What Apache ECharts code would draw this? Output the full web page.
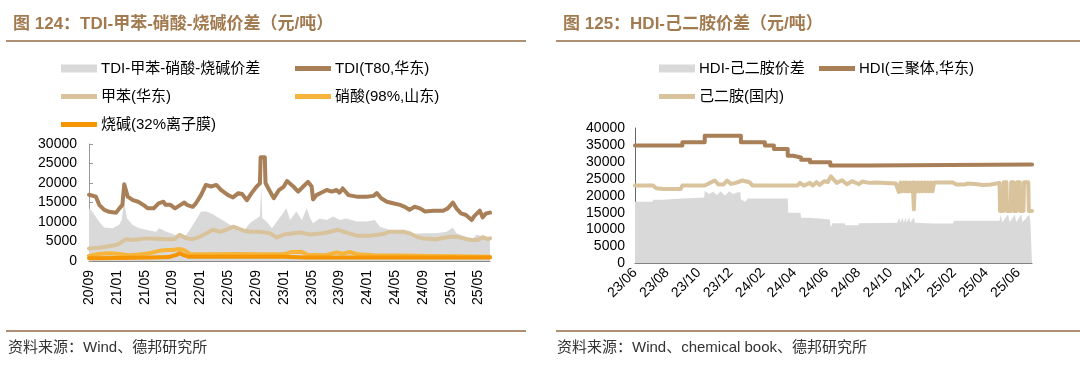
<!DOCTYPE html>
<html>
<head>
<meta charset="utf-8">
<script src="https://cdn.jsdelivr.net/npm/echarts@6/dist/echarts.min.js"></script>
<style>
html,body{margin:0;padding:0;background:#fff;}
#c{width:1080px;height:373px;}
</style>
</head>
<body>
<div id="c"></div>
<script>
// ---------- Left chart data (dates, yuan/ton) ----------
const leftTickLabels = ['20/09','21/01','21/05','21/09','22/01','22/05','22/09','23/01','23/05','23/09','24/01','24/05','24/09','25/01','25/05'];
const leftStart = '2020-09-01';
const leftEnd = '2025-06-20';

const tdiSpread = [
['2020-09-01',13500],['2020-09-15',12700],['2020-10-14',10100],['2020-11-06',8600],['2020-12-12',8400],['2021-01-10',9200],['2021-01-22',10500],['2021-02-02',15200],['2021-02-15',10900],['2021-03-10',9200],['2021-04-07',8400],['2021-05-07',8000],['2021-06-19',7500],['2021-07-04',8400],['2021-08-04',7500],['2021-09-01',6900],['2021-10-01',6200],['2021-11-01',6700],['2021-11-22',8600],['2021-12-12',10500],['2022-01-04',12700],['2022-01-28',12700],['2022-02-25',12000],['2022-03-25',10900],['2022-04-25',9800],['2022-05-22',8800],['2022-06-22',8600],['2022-07-13',8000],['2022-08-04',9700],['2022-09-04',10900],['2022-09-18',11500],['2022-09-24',19100],['2022-09-28',11000],['2022-10-16',10100],['2022-11-10',8400],['2022-12-01',10100],['2022-12-22',11800],['2023-01-12',13500],['2023-01-28',10500],['2023-02-25',12700],['2023-03-19',10500],['2023-04-10',13500],['2023-04-25',10900],['2023-05-07',9700],['2023-06-06',10900],['2023-07-06',10500],['2023-08-03',11400],['2023-09-03',10500],['2023-10-01',10900],['2023-11-15',10100],['2023-12-28',10100],['2024-02-03',10500],['2024-02-25',8800],['2024-04-06',8000],['2024-06-06',7500],['2024-07-18',7000],['2024-09-01',7100],['2024-10-28',7100],['2024-12-12',7500],['2025-01-10',8600],['2025-01-25',7100],['2025-03-06',6200],['2025-04-01',5400],['2025-04-22',6800],['2025-05-18',6200],['2025-06-20',6200]
];
const tdiT80 = [
['2020-09-01',17000],['2020-10-01',16500],['2020-10-15',14400],['2020-11-07',13100],['2020-11-28',12600],['2020-12-28',12400],['2021-01-12',13500],['2021-01-25',14400],['2021-02-03',19700],['2021-02-18',16500],['2021-03-10',15600],['2021-04-03',15200],['2021-04-25',14400],['2021-05-15',13500],['2021-06-10',13500],['2021-07-01',14800],['2021-07-22',15200],['2021-08-01',14400],['2021-08-22',14400],['2021-09-12',13500],['2021-10-06',14400],['2021-10-22',15000],['2021-11-03',14400],['2021-11-28',13900],['2021-12-12',14800],['2022-01-04',16900],['2022-01-25',19500],['2022-02-18',19100],['2022-03-10',19500],['2022-04-01',18200],['2022-05-01',16900],['2022-05-22',16300],['2022-06-15',17400],['2022-07-01',17200],['2022-07-22',15600],['2022-08-12',17400],['2022-09-04',19100],['2022-09-18',19900],['2022-09-21',26600],['2022-10-09',26600],['2022-10-12',20000],['2022-10-28',18200],['2022-11-18',16100],['2022-12-10',18200],['2023-01-01',19100],['2023-01-15',20500],['2023-02-12',19100],['2023-03-03',17800],['2023-03-25',19100],['2023-04-15',20300],['2023-05-01',19100],['2023-05-07',15800],['2023-05-22',16900],['2023-06-12',17500],['2023-07-06',18200],['2023-07-28',17800],['2023-08-18',18200],['2023-09-01',17500],['2023-09-15',18600],['2023-10-10',16900],['2023-11-15',16500],['2023-12-28',16500],['2024-01-28',16700],['2024-02-12',17400],['2024-03-01',16100],['2024-03-25',15200],['2024-04-22',14800],['2024-05-22',14400],['2024-06-12',13900],['2024-07-03',13100],['2024-07-25',13900],['2024-08-18',13500],['2024-09-10',12700],['2024-10-15',12900],['2024-11-28',12900],['2024-12-18',13500],['2025-01-10',15000],['2025-01-25',13500],['2025-02-15',12200],['2025-03-06',11800],['2025-04-01',10500],['2025-04-12',11500],['2025-05-06',12900],['2025-05-18',11200],['2025-06-03',12200],['2025-06-20',12400]
];
const toluene = [
['2020-09-01',3200],['2020-10-14',3400],['2020-11-28',3800],['2020-12-28',4100],['2021-01-18',4700],['2021-02-10',5600],['2021-03-10',5400],['2021-04-07',5600],['2021-05-07',5800],['2021-06-19',5700],['2021-08-04',5600],['2021-09-10',5600],['2021-10-01',6700],['2021-11-01',5800],['2021-11-28',5600],['2021-12-28',6200],['2022-01-28',7100],['2022-02-25',8000],['2022-03-25',7500],['2022-04-25',8000],['2022-05-22',8800],['2022-06-12',8400],['2022-07-07',7800],['2022-08-04',7500],['2022-09-18',7500],['2022-11-01',7100],['2022-12-01',6000],['2023-01-01',6800],['2023-02-12',7100],['2023-03-10',7300],['2023-04-25',6800],['2023-06-22',7100],['2023-08-25',8000],['2023-10-01',7300],['2023-11-15',6500],['2024-01-12',6500],['2024-03-10',6900],['2024-04-06',7500],['2024-06-06',7500],['2024-07-03',7100],['2024-08-03',6200],['2024-09-01',5800],['2024-10-28',5600],['2024-12-28',6200],['2025-01-25',6200],['2025-02-25',5800],['2025-04-01',5400],['2025-04-28',5400],['2025-05-18',6100],['2025-06-10',5600],['2025-06-20',5800]
];
const nitricAcid = [
['2020-09-01',1300],['2020-10-12',1800],['2020-11-28',2000],['2021-01-10',1800],['2021-02-25',1500],['2021-04-07',1700],['2021-05-22',2000],['2021-07-04',2600],['2021-08-04',2800],['2021-09-01',2800],['2021-10-01',3100],['2021-10-22',2800],['2021-11-15',1800],['2022-02-01',1700],['2022-06-01',1800],['2022-10-01',1700],['2023-01-01',1700],['2023-02-01',2300],['2023-03-15',2400],['2023-04-15',1600],['2023-07-01',1500],['2023-08-20',2200],['2023-09-15',1900],['2023-10-15',2300],['2023-11-20',1700],['2024-02-01',1500],['2024-06-01',1400],['2024-10-01',1300],['2025-02-01',1200],['2025-06-20',1100]
];
const causticSoda = [
['2020-09-01',700],['2021-01-01',800],['2021-06-01',900],['2021-08-15',1000],['2021-09-15',1500],['2021-10-01',2000],['2021-10-20',1500],['2021-11-10',1100],['2022-03-01',1100],['2022-09-01',1100],['2023-01-01',1100],['2023-04-01',900],['2023-10-01',900],['2024-06-01',900],['2025-06-20',900]
];

// ---------- Right chart data ----------
const rightTickLabels = ['23/06','23/08','23/10','23/12','24/02','24/04','24/06','24/08','24/10','24/12','25/02','25/04','25/06'];
const rightStart = '2023-06-01';
const rightEnd = '2025-06-27';

const hdiSpread = [
['2023-06-01',18200],['2023-07-04',18200],['2023-07-05',18800],['2023-07-23',18800],['2023-07-24',19200],['2023-08-29',19200],['2023-08-30',19500],['2023-10-11',19500],['2023-10-12',21500],['2023-10-20',20500],['2023-10-28',21200],['2023-11-05',20200],['2023-11-12',21300],['2023-11-20',20000],['2023-11-28',21300],['2023-12-05',20500],['2023-12-15',21000],['2023-12-19',21000],['2023-12-20',19000],['2023-12-28',18200],['2024-01-03',19200],['2024-03-18',19200],['2024-03-19',15000],['2024-04-12',15000],['2024-04-13',13500],['2024-04-30',13500],['2024-05-01',13000],['2024-06-07',13000],['2024-06-09',10600],['2024-06-12',11900],['2024-07-05',11900],['2024-07-06',11300],['2024-08-01',11300],['2024-08-02',11900],['2024-10-14',12000],['2024-10-18',13600],['2024-10-20',12000],['2024-10-24',13600],['2024-10-26',12000],['2024-10-30',13600],['2024-11-01',12000],['2024-11-06',13600],['2024-11-08',12000],['2024-11-15',13600],['2024-11-17',12000],['2024-12-20',11800],['2025-01-28',11800],['2025-02-01',12600],['2025-04-26',12600],['2025-04-28',14500],['2025-05-01',12200],['2025-05-12',14500],['2025-05-15',12200],['2025-05-25',14500],['2025-05-27',12200],['2025-06-07',14500],['2025-06-09',12200],['2025-06-22',14500],['2025-06-24',12200],['2025-06-27',12200]
];
const hdiTrimer = [
['2023-06-01',34800],['2023-08-30',35800],['2023-10-12',37700],['2023-12-20',35800],['2024-02-05',34800],['2024-02-22',33800],['2024-03-18',31800],['2024-03-28',31300],['2024-04-13',30600],['2024-04-30',29900],['2024-06-08',28900],['2024-08-20',29200],['2025-06-27',29200]
];
const adipicAcid = [
['2023-06-01',23000],['2023-07-05',23000],['2023-07-11',22200],['2023-07-24',22000],['2023-08-27',22000],['2023-08-30',23000],['2023-10-12',23000],['2023-10-18',23500],['2023-11-01',24500],['2023-11-08',23300],['2023-11-17',23300],['2023-11-24',24500],['2023-12-01',23500],['2023-12-10',23800],['2023-12-23',24500],['2024-01-06',24000],['2024-01-12',23000],['2024-04-06',23000],['2024-04-11',23800],['2024-04-18',23000],['2024-04-30',23800],['2024-05-05',23000],['2024-05-12',24000],['2024-05-18',23200],['2024-05-27',24300],['2024-06-03',24000],['2024-06-09',25700],['2024-06-20',23800],['2024-06-30',24600],['2024-07-09',23400],['2024-07-19',24300],['2024-08-02',23400],['2024-08-08',24200],['2024-08-21',23800],['2024-09-03',23900],['2024-10-11',23600],
['2024-10-17',21100],['2024-10-20',23900],['2024-10-23',21300],['2024-10-26',23900],['2024-10-29',21300],['2024-11-01',23900],['2024-11-04',21300],['2024-11-07',23900],['2024-11-10',21300],['2024-11-13',23900],['2024-11-15',16000],['2024-11-17',23900],['2024-11-20',21300],['2024-11-23',23900],['2024-11-26',21300],['2024-11-29',23900],['2024-12-02',21300],['2024-12-05',23900],['2024-12-08',21300],['2024-12-11',23900],['2024-12-14',21300],['2024-12-17',23900],['2024-12-20',21300],['2024-12-23',23900],
['2025-01-28',23900],['2025-02-05',23300],['2025-02-20',23300],['2025-02-25',23600],['2025-03-10',23500],['2025-03-25',23200],['2025-04-10',23300],['2025-04-26',23800],
['2025-04-27',15500],['2025-05-03',15500],['2025-05-04',24000],['2025-05-09',24000],['2025-05-10',15500],['2025-05-17',15500],['2025-05-18',24000],['2025-05-22',24000],['2025-05-23',15500],['2025-05-28',15500],['2025-05-29',24000],['2025-06-04',24000],['2025-06-05',15500],['2025-06-11',15500],['2025-06-12',24000],['2025-06-20',24000],['2025-06-21',15500],['2025-06-27',15500]
];

// ---------- helpers ----------
function monthIndex(dateStr, startStr) {
  const [y, m, d] = dateStr.split('-').map(Number);
  const [y0, m0] = startStr.split('-').map(Number);
  return (y - y0) * 12 + (m - m0) + (d - 1) / 30;
}
function toXY(arr, startStr) {
  return arr.map(p => [monthIndex(p[0], startStr), p[1]]);
}

const FONT = "'Liberation Sans', 'Noto Sans CJK SC', sans-serif";
const C_GRAY = '#d9d9d9', C_BROWN = '#a87f57', C_TAN = '#d9c39c', C_YEL = '#f6b53a', C_ORA = '#f59500';
const TITLE_COLOR = '#a27a50', RULE_COLOR = '#ad9074';

const chart = echarts.init(document.getElementById('c'), null, {renderer: 'canvas'});

function legendItem(name, left, cy, h) {
  return {
    data: [name], left: left, top: cy - 9, icon: 'rect', itemWidth: 36, itemHeight: h,
    padding: 0, selectedMode: false,
    textStyle: {fontSize: 15, color: '#000', fontFamily: FONT, padding: [0, 0, 0, -1]}
  };
}
function lineSeries(name, data, color, xi, extra) {
  return Object.assign({
    name: name, type: 'line', data: data, xAxisIndex: xi, yAxisIndex: xi,
    showSymbol: false, symbol: 'none', color: color,
    lineStyle: {width: 4, color: color, cap: 'round', join: 'round'},
    itemStyle: {color: color}, animation: false, z: 3
  }, extra || {});
}
function areaSeries(name, data, xi) {
  return {
    name: name, type: 'line', data: data, xAxisIndex: xi, yAxisIndex: xi,
    showSymbol: false, symbol: 'none', color: C_GRAY,
    lineStyle: {width: 0, color: C_GRAY}, areaStyle: {color: C_GRAY, opacity: 1},
    itemStyle: {color: C_GRAY}, animation: false, z: 1
  };
}

const leftMax = monthIndex(leftEnd, leftStart);
const rightMax = monthIndex(rightEnd, rightStart);

const axisLabelBase = {fontSize: 14, color: '#000', fontFamily: FONT};
const plainNumber = v => String(v);
const titleRich = {
  a: {fontSize: 17, color: TITLE_COLOR, fontFamily: FONT},
  b: {fontSize: 17, fontWeight: 'bold', color: TITLE_COLOR, fontFamily: FONT}
};

const option = {
  backgroundColor: '#fff',
  animation: false,
  title: [
    {text: '{a|图 }{b|124：TDI-}{a|甲苯-硝酸-烧碱价差（元/吨）}', left: 8, top: 11, textStyle: {rich: titleRich}},
    {text: '{a|图 }{b|125：HDI-}{a|己二胺价差（元/吨）}', left: 558, top: 11, textStyle: {rich: titleRich}}
  ],
  legend: [
    legendItem('TDI-甲苯-硝酸-烧碱价差', 61, 70, 8),
    legendItem('TDI(T80,华东)', 295, 70, 5),
    legendItem('甲苯(华东)', 61, 98, 5),
    legendItem('硝酸(98%,山东)', 295, 98, 5),
    legendItem('烧碱(32%离子膜)', 61, 126, 5),
    legendItem('HDI-己二胺价差', 659, 70, 8),
    legendItem('HDI(三聚体,华东)', 819, 70, 5),
    legendItem('己二胺(国内)', 659, 98, 5)
  ],
  grid: [
    {left: 89, right: 590, top: 144, bottom: 112},
    {left: 635, right: 48, top: 128, bottom: 109.5}
  ],
  xAxis: [
    {type: 'value', gridIndex: 0, min: 0, max: leftMax, interval: 4,
     axisLine: {lineStyle: {color: '#888', width: 1}},
     axisTick: {inside: true, length: 4, lineStyle: {color: '#888'}},
     splitLine: {show: false},
     axisLabel: Object.assign({}, axisLabelBase, {rotate: 90, margin: 9, showMaxLabel: false,
       formatter: v => (Math.abs(v % 4) < 1e-6 ? (leftTickLabels[Math.round(v / 4)] || '') : '')})},
    {type: 'value', gridIndex: 1, min: 0, max: rightMax, interval: 2,
     axisLine: {lineStyle: {color: '#666', width: 1}},
     axisTick: {inside: true, length: 4, lineStyle: {color: '#666'}},
     splitLine: {show: false},
     axisLabel: Object.assign({}, axisLabelBase, {rotate: 45, margin: 7, showMaxLabel: false,
       formatter: v => (Math.abs(v % 2) < 1e-6 ? (rightTickLabels[Math.round(v / 2)] || '') : '')})}
  ],
  yAxis: [
    {type: 'value', gridIndex: 0, min: 0, max: 30000, interval: 5000,
     axisLine: {show: true, lineStyle: {color: '#999'}},
     axisTick: {show: true, inside: true, length: 4, lineStyle: {color: '#999'}},
     splitLine: {show: false},
     axisLabel: Object.assign({}, axisLabelBase, {margin: 12, formatter: plainNumber})},
    {type: 'value', gridIndex: 1, min: 0, max: 40000, interval: 5000,
     axisLine: {show: true, lineStyle: {color: '#666'}},
     axisTick: {show: false},
     splitLine: {show: false},
     axisLabel: Object.assign({}, axisLabelBase, {margin: 10, formatter: plainNumber})}
  ],
  series: [
    areaSeries('TDI-甲苯-硝酸-烧碱价差', toXY(tdiSpread, leftStart), 0),
    lineSeries('TDI(T80,华东)', toXY(tdiT80, leftStart), C_BROWN, 0),
    lineSeries('甲苯(华东)', toXY(toluene, leftStart), C_TAN, 0),
    lineSeries('硝酸(98%,山东)', toXY(nitricAcid, leftStart), C_YEL, 0),
    lineSeries('烧碱(32%离子膜)', toXY(causticSoda, leftStart), C_ORA, 0),
    areaSeries('HDI-己二胺价差', toXY(hdiSpread, rightStart), 1),
    lineSeries('HDI(三聚体,华东)', toXY(hdiTrimer, rightStart), C_BROWN, 1, {step: 'end'}),
    lineSeries('己二胺(国内)', toXY(adipicAcid, rightStart), C_TAN, 1)
  ],
  graphic: [
    {type: 'line', shape: {x1: 6, y1: 41, x2: 526, y2: 41}, style: {stroke: RULE_COLOR, lineWidth: 2}, silent: true},
    {type: 'line', shape: {x1: 556, y1: 41, x2: 1080, y2: 41}, style: {stroke: RULE_COLOR, lineWidth: 2}, silent: true},
    {type: 'line', shape: {x1: 6, y1: 331, x2: 526, y2: 331}, style: {stroke: RULE_COLOR, lineWidth: 2}, silent: true},
    {type: 'line', shape: {x1: 556, y1: 331, x2: 1080, y2: 331}, style: {stroke: RULE_COLOR, lineWidth: 2}, silent: true},
    {type: 'text', left: 8, top: 340, style: {text: '资料来源：Wind、德邦研究所', font: "15px 'Liberation Sans', 'Noto Sans CJK SC'", fill: '#333'}, silent: true},
    {type: 'text', left: 557, top: 340, style: {text: '资料来源：Wind、chemical book、德邦研究所', font: "15px 'Liberation Sans', 'Noto Sans CJK SC'", fill: '#333'}, silent: true}
  ]
};
chart.setOption(option);
</script>
</body>
</html>
